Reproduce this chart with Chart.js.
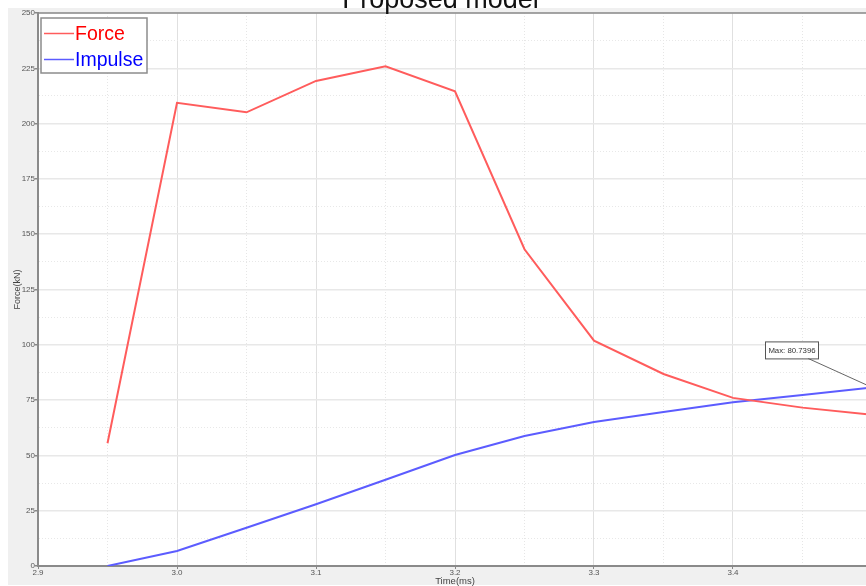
<!DOCTYPE html>
<html>
<head>
<meta charset="utf-8">
<script src="https://cdn.jsdelivr.net/npm/chart.js@4.4.1/dist/chart.umd.min.js"></script>
<style>
  html, body { margin: 0; padding: 0; background: #fff; overflow: hidden; width: 866px; height: 586px; }
  canvas { display: block; }
</style>
</head>
<body>
<canvas id="chart" width="884" height="586"></canvas>
<script>
// Series data
const chartTitle = 'Proposed model';
const timeMs  = [2.95, 3.0, 3.05, 3.1, 3.15, 3.2, 3.25, 3.3, 3.35, 3.4, 3.45, 3.5];
const forceKN = [55.5, 209.4, 205.1, 219.3, 225.9, 214.6, 143.2, 101.9, 86.8, 76.0, 71.6, 68.4];
const impulse = [0, 6.8, 17.3, 27.9, 39.0, 50.2, 58.8, 65.1, 69.6, 74.0, 77.3, 80.7396];
const seriesNames = ['Force', 'Impulse'];
const xAxisTitle = 'Time(ms)';
const yAxisTitle = 'Force(kN)';

const FONT = '"Liberation Sans", Arial, Helvetica, sans-serif';
const FORCE_COLOR = 'rgb(255, 92, 92)';
const IMPULSE_COLOR = 'rgb(92, 92, 255)';

const toPoints = (xs, ys) => xs.map((x, i) => ({ x: x, y: ys[i] }));

const isMajorX = v => Math.round(v * 100) % 10 === 0;
const isMajorY = v => Math.round(v * 10) % 250 === 0;

// Background panel, white plot area and top frame line
const framePlugin = {
  id: 'frame',
  beforeDraw(chart) {
    const { ctx, chartArea: a } = chart;
    ctx.save();
    ctx.fillStyle = '#ffffff';
    ctx.fillRect(0, 0, chart.width, chart.height);
    ctx.fillStyle = '#f0f0f0';
    ctx.fillRect(8, 8, chart.width - 8, chart.height - 9);
    ctx.fillStyle = '#ffffff';
    ctx.fillRect(a.left, a.top, a.right - a.left, a.bottom - a.top);
    ctx.restore();
  },
  afterDraw(chart) {
    const { ctx, chartArea: a } = chart;
    ctx.save();
    ctx.strokeStyle = '#8a8a8a';
    ctx.lineWidth = 1.5;
    ctx.beginPath();
    ctx.moveTo(a.left, a.top);
    ctx.lineTo(a.right, a.top);
    ctx.stroke();
    ctx.restore();
  }
};

// Boxed legend in the upper-left corner of the plot
const boxLegendPlugin = {
  id: 'boxLegend',
  afterDraw(chart) {
    const { ctx, chartArea: a } = chart;
    const x0 = a.left + 3, y0 = a.top + 5, w = 106, h = 55;
    ctx.save();
    ctx.fillStyle = '#ffffff';
    ctx.fillRect(x0, y0, w, h);
    ctx.strokeStyle = '#8c8c8c';
    ctx.lineWidth = 1.5;
    ctx.strokeRect(x0, y0, w, h);
    const textColors = ['#ff0000', '#0000ff'];
    chart.data.datasets.forEach((ds, i) => {
      const yy = y0 + 15.5 + i * 26;
      ctx.strokeStyle = ds.borderColor;
      ctx.lineWidth = 1.5;
      ctx.beginPath();
      ctx.moveTo(x0 + 3, yy);
      ctx.lineTo(x0 + 33, yy);
      ctx.stroke();
      ctx.fillStyle = textColors[i];
      ctx.font = '19.5px ' + FONT;
      ctx.textBaseline = 'middle';
      ctx.textAlign = 'left';
      ctx.fillText(ds.label, x0 + 34, yy + 1);
    });
    ctx.restore();
  }
};

// Callout marking the maximum of the impulse series
const maxCalloutPlugin = {
  id: 'maxCallout',
  afterDraw(chart) {
    const { ctx, scales } = chart;
    let mi = 0;
    impulse.forEach((v, i) => { if (v > impulse[mi]) mi = i; });
    const px = scales.x.getPixelForValue(timeMs[mi]);
    const py = scales.y.getPixelForValue(impulse[mi]);
    const bx = px - 107, by = py - 46, bw = 53, bh = 17;
    ctx.save();
    ctx.strokeStyle = '#666666';
    ctx.lineWidth = 1;
    ctx.beginPath();
    ctx.moveTo(bx + 43, by + bh);
    ctx.lineTo(px, py);
    ctx.stroke();
    ctx.fillStyle = '#ffffff';
    ctx.fillRect(bx, by, bw, bh);
    ctx.strokeStyle = '#555555';
    ctx.strokeRect(bx + 0.5, by + 0.5, bw, bh);
    ctx.fillStyle = '#333333';
    ctx.font = '7.8px ' + FONT;
    ctx.textBaseline = 'middle';
    ctx.textAlign = 'center';
    ctx.fillText('Max: ' + impulse[mi].toFixed(4), bx + bw / 2 + 0.5, by + bh / 2 + 1);
    ctx.restore();
  }
};

// Chart heading, drawn last so it sits over the panel edge
const headingPlugin = {
  id: 'heading',
  afterDraw(chart) {
    const { ctx } = chart;
    ctx.save();
    ctx.fillStyle = '#111111';
    ctx.font = '27px ' + FONT;
    ctx.textAlign = 'center';
    ctx.textBaseline = 'alphabetic';
    ctx.fillText(chartTitle, 440.5, 8);
    ctx.restore();
  }
};

new Chart(document.getElementById('chart'), {
  type: 'line',
  data: {
    datasets: [
      {
        label: seriesNames[0],
        data: toPoints(timeMs, forceKN),
        borderColor: FORCE_COLOR,
        borderWidth: 2,
        pointRadius: 0,
        tension: 0,
        fill: false
      },
      {
        label: seriesNames[1],
        data: toPoints(timeMs, impulse),
        borderColor: IMPULSE_COLOR,
        borderWidth: 2,
        pointRadius: 0,
        tension: 0,
        fill: false
      }
    ]
  },
  options: {
    responsive: false,
    animation: false,
    devicePixelRatio: 1,
    layout: { padding: { left: 0, top: 13, right: 12, bottom: 0 } },
    plugins: {
      legend: { display: false },
      title: { display: false },
      tooltip: { enabled: false }
    },
    scales: {
      x: {
        type: 'linear',
        min: 2.9,
        max: 3.5,
        afterFit(scale) { scale.height = 20; },
        ticks: {
          stepSize: 0.05,
          autoSkip: false,
          maxRotation: 0,
          padding: 0,
          color: '#555555',
          font: { family: FONT, size: 8, lineHeight: 1 },
          callback: v => isMajorX(v) ? v.toFixed(1) : ''
        },
        grid: {
          color: c => (c.tick && isMajorX(c.tick.value)) ? '#e0e0e0' : '#e6e6e6',
          lineWidth: 1,
          tickLength: 3,
          tickColor: c => (c.tick && isMajorX(c.tick.value)) ? '#888888' : 'rgba(0,0,0,0)'
        },
        border: {
          display: true,
          color: '#8a8a8a',
          width: 2,
          dash: c => (c.tick && !isMajorX(c.tick.value)) ? [1, 2] : []
        },
        title: {
          display: true,
          text: xAxisTitle,
          color: '#444444',
          font: { family: FONT, size: 9.5, lineHeight: 0.9 },
          padding: { top: 0, bottom: 0 }
        }
      },
      y: {
        type: 'linear',
        min: 0,
        max: 250,
        afterFit(scale) { scale.width = 38; },
        ticks: {
          stepSize: 12.5,
          autoSkip: false,
          padding: 0,
          color: '#555555',
          font: { family: FONT, size: 8 },
          callback: v => isMajorY(v) ? String(v) : ''
        },
        grid: {
          color: c => (c.tick && isMajorY(c.tick.value)) ? '#e8e8e8' : '#e8e8e8',
          lineWidth: c => (c.tick && isMajorY(c.tick.value)) ? 1.5 : 1,
          tickLength: 3,
          tickColor: c => (c.tick && isMajorY(c.tick.value)) ? '#888888' : 'rgba(0,0,0,0)'
        },
        border: {
          display: true,
          color: '#8a8a8a',
          width: 2,
          dash: c => (c.tick && !isMajorY(c.tick.value)) ? [1, 2] : []
        },
        title: {
          display: true,
          text: yAxisTitle,
          color: '#444444',
          font: { family: FONT, size: 9 },
          padding: { top: 12, bottom: 0 }
        }
      }
    }
  },
  plugins: [framePlugin, boxLegendPlugin, maxCalloutPlugin, headingPlugin]
});
</script>
</body>
</html>
